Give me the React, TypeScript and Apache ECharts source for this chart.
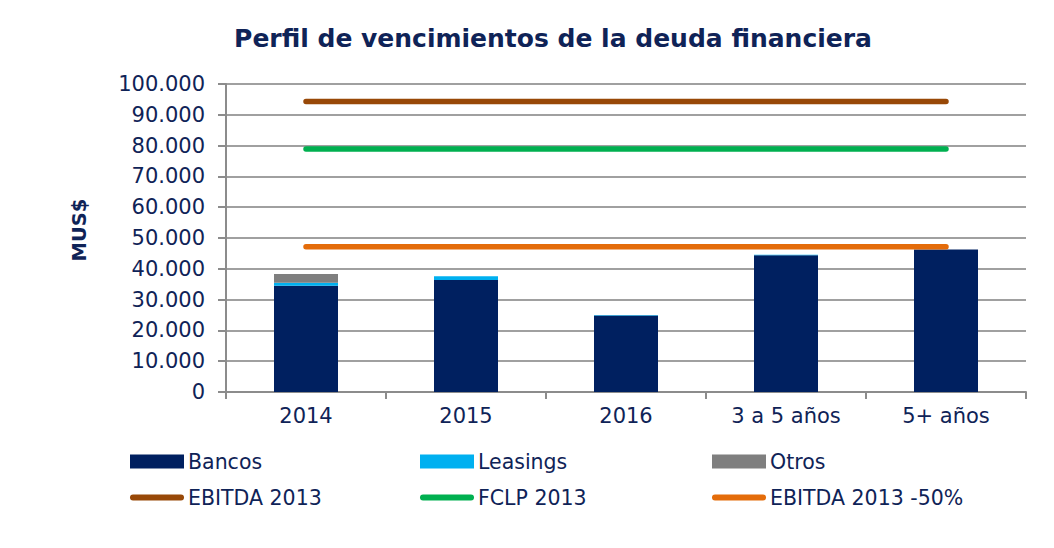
import React, { useEffect, useRef } from "react";
import * as echarts from "echarts";

const categories = ["2014", "2015", "2016", "3 a 5 años", "5+ años"];
const bancos = [34500, 36400, 24800, 44400, 46300];
const leasings = [1000, 1200, 200, 200, 0];
const otros = [2800, 0, 0, 0, 0];
const ebitda2013 = [94300, 94300, 94300, 94300, 94300];
const fclp2013 = [78900, 78900, 78900, 78900, 78900];
const ebitda50 = [47150, 47150, 47150, 47150, 47150];
const yTicks = [0, 10000, 20000, 30000, 40000, 50000, 60000, 70000, 80000, 90000, 100000];

const NAVY_TEXT = "#0f2357";
const FONT = "'DejaVu Sans', Verdana, sans-serif";

const fmt = (v: number) => String(v).replace(/\B(?=(\d{3})+(?!\d))/g, ".");

const capsule = "path://M3,0 L51,0 A3,3 0 0 1 51,6 L3,6 A3,3 0 0 1 3,0 Z";

export default function App() {
  const ref = useRef<HTMLDivElement>(null);
  useEffect(() => {
    if (!ref.current) return;
    const chart = echarts.init(ref.current, undefined, { renderer: "svg" });
    const legendText = { color: NAVY_TEXT, fontSize: 20.5, fontFamily: FONT, padding: [0, 0, 0, -1] };
    const mkLegend = (name: string, left: number, top: number, line: boolean) => ({
      data: [line ? { name, icon: capsule } : { name, icon: "rect" }],
      left,
      top,
      padding: 0,
      itemWidth: 54,
      itemHeight: line ? 6 : 14,
      itemGap: 4,
      textStyle: legendText,
    });
    chart.setOption({
      animation: false,
      backgroundColor: "#ffffff",
      title: {
        text: "Perfil de vencimientos de la deuda financiera",
        left: 548,
        textAlign: "center",
        top: 21,
        textStyle: { color: NAVY_TEXT, fontSize: 25, fontWeight: "bold", fontFamily: FONT },
      },
      grid: { left: 226, right: 28, top: 84, bottom: 156, containLabel: false },
      legend: [
        mkLegend("Bancos", 130, 451, false),
        mkLegend("Leasings", 420, 451, false),
        mkLegend("Otros", 712, 451, false),
        mkLegend("EBITDA 2013", 130, 487, true),
        mkLegend("FCLP 2013", 420, 487, true),
        mkLegend("EBITDA 2013 -50%", 712, 487, true),
      ],
      xAxis: {
        type: "category",
        data: categories,
        axisLine: { lineStyle: { color: "#8c8c8c", width: 2 } },
        axisTick: { show: true, length: 7, lineStyle: { color: "#8c8c8c", width: 2 } },
        axisLabel: { color: NAVY_TEXT, fontSize: 21, fontFamily: FONT, margin: 13 },
      },
      yAxis: {
        type: "value",
        min: 0,
        max: yTicks[yTicks.length - 1],
        interval: yTicks[1] - yTicks[0],
        axisLine: { show: true, lineStyle: { color: "#8c8c8c", width: 2 } },
        axisTick: { show: true, length: 8, lineStyle: { color: "#8c8c8c", width: 2 } },
        splitLine: { lineStyle: { color: "#a0a0a0", width: 2 } },
        axisLabel: { color: NAVY_TEXT, fontSize: 21, fontFamily: FONT, margin: 21, formatter: (v: number) => fmt(v) },
      },
      graphic: [
        {
          type: "text",
          x: 79,
          y: 230,
          rotation: Math.PI / 2,
          style: {
            text: "MUS$",
            fill: NAVY_TEXT,
            font: `bold 19.5px ${FONT}`,
            align: "center",
            verticalAlign: "middle",
          },
        },
      ],
      series: [
        { name: "Bancos", type: "bar", stack: "d", data: bancos, barWidth: "40%", itemStyle: { color: "#002060" } },
        { name: "Leasings", type: "bar", stack: "d", data: leasings, itemStyle: { color: "#00b0f0" } },
        { name: "Otros", type: "bar", stack: "d", data: otros, itemStyle: { color: "#7f7f7f" } },
        { name: "EBITDA 2013", type: "line", data: ebitda2013, symbol: "none", itemStyle: { color: "#984807" }, lineStyle: { color: "#984807", width: 5.5, cap: "round" } },
        { name: "FCLP 2013", type: "line", data: fclp2013, symbol: "none", itemStyle: { color: "#00b050" }, lineStyle: { color: "#00b050", width: 5.5, cap: "round" } },
        { name: "EBITDA 2013 -50%", type: "line", data: ebitda50, symbol: "none", itemStyle: { color: "#e46c0a" }, lineStyle: { color: "#e46c0a", width: 5.5, cap: "round" } },
      ],
    });
    return () => chart.dispose();
  }, []);
  return <div ref={ref} style={{ width: 1054, height: 548, position: "absolute", left: 0, top: 0 }} />;
}
